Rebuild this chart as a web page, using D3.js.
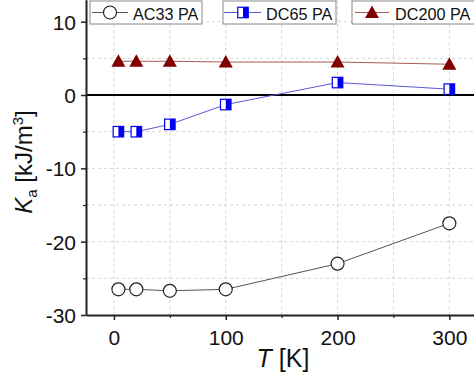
<!DOCTYPE html>
<html lang="en">
<head>
<meta charset="UTF-8">
<title>Ka vs T</title>
<script src="https://d3js.org/d3.v7.min.js"></script>
<style>
  body { margin: 0; background: #fff; }
  svg { display: block; font-family: "Liberation Sans", Arial, sans-serif; }
</style>
</head>
<body>
<div id="chart"></div>
<script>
// data
const temps = [4, 20, 50, 100, 200, 300];
const seriesNames = ["AC33 PA", "DC65 PA", "DC200 PA"];
const ac33 = [-26.5, -26.5, -26.7, -26.5, -23.0, -17.5];
const dc65 = [-5.0, -5.0, -4.0, -1.3, 1.7, 0.8];
const dc200 = [4.6, 4.6, 4.6, 4.5, 4.5, 4.2];
const xTicks = [0, 100, 200, 300];
const yTicks = [-30, -20, -10, 0, 10];

const width = 474, height = 379;

const svg = d3.select("#chart").append("svg")
    .attr("width", width)
    .attr("height", height);

const x = d3.scaleLinear().domain([-25, 325]).range([86, 477.3]);
const y = d3.scaleLinear().domain([-30, 13]).range([315, -0.3]);

// grid lines (major + minor)
const gx = d3.range(0, 301, 50);
const gy = d3.range(-25, 11, 5).filter(v => v !== 0);
svg.append("g").selectAll("line").data(gx).enter().append("line")
    .attr("x1", d => x(d)).attr("x2", d => x(d))
    .attr("y1", y(-30)).attr("y2", 0)
    .attr("stroke", "#d4d4d4").attr("stroke-dasharray", "3,3").attr("stroke-width", 1);
svg.append("g").selectAll("line").data(gy).enter().append("line")
    .attr("x1", x(-25)).attr("x2", width)
    .attr("y1", d => y(d)).attr("y2", d => y(d))
    .attr("stroke", "#d4d4d4").attr("stroke-dasharray", "3,3").attr("stroke-width", 1);

// zero line
svg.append("line")
    .attr("x1", x(-25)).attr("x2", width)
    .attr("y1", y(0)).attr("y2", y(0))
    .attr("stroke", "#000").attr("stroke-width", 2.2);

// axes (plain hyphen for negatives, as in the figure)
const fmt = d => String(d);
const xAxis = svg.append("g")
    .attr("transform", "translate(0," + y(-30) + ")")
    .call(d3.axisBottom(x).tickValues(xTicks).tickFormat(fmt).tickSize(5).tickSizeOuter(0).tickPadding(6));
const xMinor = svg.append("g")
    .attr("transform", "translate(0," + y(-30) + ")")
    .call(d3.axisBottom(x).tickValues([50, 150, 250]).tickSize(3).tickFormat(""));
xMinor.select(".domain").remove();

const yAxis = svg.append("g")
    .attr("transform", "translate(" + x(-25) + ",0)")
    .call(d3.axisLeft(y).tickValues(yTicks).tickFormat(fmt).tickSize(5).tickSizeOuter(0).tickPadding(5));
const yMinor = svg.append("g")
    .attr("transform", "translate(" + x(-25) + ",0)")
    .call(d3.axisLeft(y).tickValues([-25, -15, -5, 5]).tickSize(3).tickFormat(""));
yMinor.select(".domain").remove();

[xAxis, yAxis].forEach(a => {
    a.select(".domain").attr("stroke", "#222").attr("stroke-width", 2);
    a.selectAll(".tick line").attr("stroke", "#222").attr("stroke-width", 1.5);
    a.selectAll(".tick text").attr("font-size", 21).attr("fill", "#111")
        .attr("font-family", "'Liberation Sans', Arial, sans-serif");
});
[xMinor, yMinor].forEach(a => a.selectAll(".tick line").attr("stroke", "#222").attr("stroke-width", 1.2));
xAxis.selectAll(".tick text").attr("dy", "0.9em");
yAxis.selectAll(".tick text").attr("dy", "0.36em");

// series lines
const line = d3.line().x((d, i) => x(temps[i])).y(d => y(d));
svg.append("path").datum(ac33).attr("d", line)
    .attr("fill", "none").attr("stroke", "#555").attr("stroke-width", 1);
svg.append("path").datum(dc65).attr("d", line)
    .attr("fill", "none").attr("stroke", "#5a5ad8").attr("stroke-width", 1);
svg.append("path").datum(dc200).attr("d", line)
    .attr("fill", "none").attr("stroke", "#a85a5a").attr("stroke-width", 1);

// marker helpers
function circleMark(g, cx, cy) {
    g.append("circle").attr("cx", cx).attr("cy", cy).attr("r", 6.5)
        .attr("fill", "#fff").attr("stroke", "#222").attr("stroke-width", 1.2);
}
function squareMark(g, cx, cy) {
    const s = 10.5;
    g.append("rect").attr("x", cx - s / 2).attr("y", cy - s / 2).attr("width", s).attr("height", s)
        .attr("fill", "#fff").attr("stroke", "#0000ee").attr("stroke-width", 1.2);
    g.append("rect").attr("x", cx).attr("y", cy - s / 2).attr("width", s / 2).attr("height", s)
        .attr("fill", "#0000ee");
}
function triMark(g, cx, cy) {
    g.append("path")
        .attr("d", "M" + (cx - 7) + "," + (cy + 5.5) + "L" + (cx + 7) + "," + (cy + 5.5) + "L" + cx + "," + (cy - 7) + "Z")
        .attr("fill", "#800000");
}

const marks = svg.append("g");
ac33.forEach((v, i) => circleMark(marks, x(temps[i]), y(v)));
dc65.forEach((v, i) => squareMark(marks, x(temps[i]), y(v)));
dc200.forEach((v, i) => triMark(marks, x(temps[i]), y(v)));

// legend
const legend = [
    { name: seriesNames[0], bx: 90, bw: 112, lx1: 92, lx2: 128, mx: 110, tx: 133, mark: circleMark, color: "#555" },
    { name: seriesNames[1], bx: 223, bw: 113, lx1: 224, lx2: 261, mx: 243, tx: 266, mark: squareMark, color: "#5a5ad8" },
    { name: seriesNames[2], bx: 352, bw: 140, lx1: 355, lx2: 389, mx: 372, tx: 395, mark: triMark, color: "#a85a5a" }
];
const lg = svg.append("g");
legend.forEach(l => {
    lg.append("rect").attr("x", l.bx).attr("y", 1).attr("width", l.bw).attr("height", 23)
        .attr("fill", "#fff").attr("stroke", "#888").attr("stroke-width", 1);
    lg.append("line").attr("x1", l.lx1).attr("x2", l.lx2).attr("y1", 12.5).attr("y2", 12.5)
        .attr("stroke", l.color).attr("stroke-width", 1);
    l.mark(lg, l.mx, 12.5);
    lg.append("text").attr("x", l.tx).attr("y", 19.5).attr("font-size", 16.2).attr("fill", "#111")
        .text(l.name);
});

// axis titles
const xt = svg.append("text").attr("x", 283).attr("y", 367).attr("text-anchor", "middle")
    .attr("font-size", 25).attr("fill", "#111");
xt.append("tspan").attr("font-style", "italic").text("T");
xt.append("tspan").text(" [K]");

const yt = svg.append("text").attr("transform", "translate(32,162) rotate(-90)")
    .attr("text-anchor", "middle").attr("font-size", 24).attr("fill", "#111");
yt.append("tspan").attr("font-style", "italic").text("K");
yt.append("tspan").attr("font-size", 15).attr("dy", 5).text("a");
yt.append("tspan").attr("dy", -5).text(" [kJ/m");
yt.append("tspan").attr("font-size", 15).attr("dy", -9).text("3");
yt.append("tspan").attr("dy", 9).text("]");
</script>
</body>
</html>
